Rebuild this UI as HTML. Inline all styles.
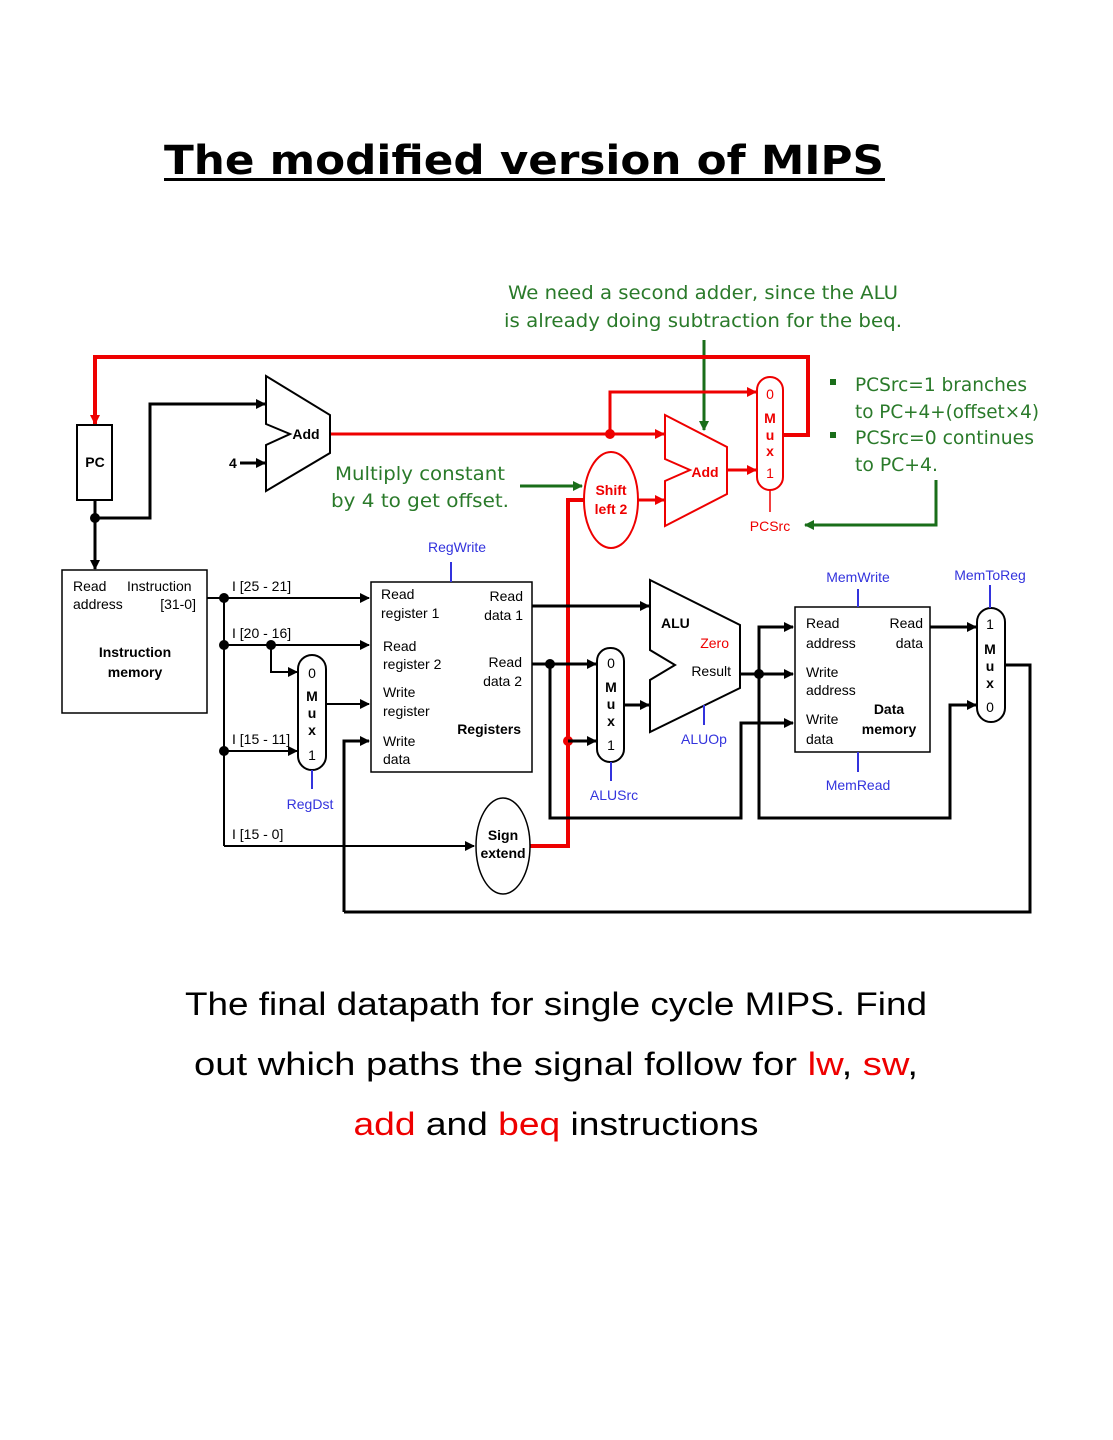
<!DOCTYPE html>
<html><head><meta charset="utf-8"><style>
html,body{margin:0;padding:0;background:#fff;}
svg{display:block;}
.a{font-family:"Liberation Sans",Arial,sans-serif;font-size:14px;fill:#000;}
.b{font-weight:bold;}
.blue{fill:#3333dd;}
.red{fill:#ee0000;}
.g{font-family:"DejaVu Sans","Liberation Sans",sans-serif;font-size:19px;fill:#2a7a2a;}
</style></head><body>
<svg width="1113" height="1440" viewBox="0 0 1113 1440" xmlns="http://www.w3.org/2000/svg">
<defs>
<marker id="ak" markerWidth="10" markerHeight="10" refX="9" refY="5" orient="auto" markerUnits="userSpaceOnUse"><path d="M0,0 L10,5 L0,10 z" fill="#000"/></marker>
<marker id="ar" markerWidth="10" markerHeight="10" refX="9" refY="5" orient="auto" markerUnits="userSpaceOnUse"><path d="M0,0 L10,5 L0,10 z" fill="#e00"/></marker>
<marker id="ag" markerWidth="10" markerHeight="10" refX="9" refY="5" orient="auto" markerUnits="userSpaceOnUse"><path d="M0,0 L10,5 L0,10 z" fill="#1a6e1a"/></marker>
</defs>

<!-- Title -->
<text x="524" y="174" text-anchor="middle" font-family="'DejaVu Sans','Liberation Sans',sans-serif" font-weight="bold" font-size="40" textLength="720" lengthAdjust="spacingAndGlyphs">The modified version of MIPS</text>
<rect x="164" y="178" width="721" height="3" fill="#000"/>

<!-- Green annotations -->
<text class="g" x="703" y="299" text-anchor="middle" textLength="390" lengthAdjust="spacingAndGlyphs">We need a second adder, since the ALU</text>
<text class="g" x="703" y="327" text-anchor="middle" textLength="398" lengthAdjust="spacingAndGlyphs">is already doing subtraction for the beq.</text>
<line x1="704" y1="340" x2="704" y2="430" stroke="#1a6e1a" stroke-width="3" marker-end="url(#ag)"/>
<text class="g" x="420" y="480" text-anchor="middle" textLength="170" lengthAdjust="spacingAndGlyphs">Multiply constant</text>
<text class="g" x="420" y="507" text-anchor="middle" textLength="178" lengthAdjust="spacingAndGlyphs">by 4 to get offset.</text>
<line x1="520" y1="486" x2="582" y2="486" stroke="#1a6e1a" stroke-width="3" marker-end="url(#ag)"/>
<rect x="830" y="379" width="6" height="6" fill="#1a6e1a"/>
<rect x="830" y="432" width="6" height="6" fill="#1a6e1a"/>
<text class="g" x="855" y="391" textLength="172" lengthAdjust="spacingAndGlyphs">PCSrc=1 branches</text>
<text class="g" x="855" y="418" textLength="184" lengthAdjust="spacingAndGlyphs">to PC+4+(offset×4)</text>
<text class="g" x="855" y="444" textLength="179" lengthAdjust="spacingAndGlyphs">PCSrc=0 continues</text>
<text class="g" x="855" y="471" textLength="83" lengthAdjust="spacingAndGlyphs">to PC+4.</text>
<polyline points="936,480 936,525 805,525" fill="none" stroke="#1a6e1a" stroke-width="3" marker-end="url(#ag)"/>

<!-- Red PC path -->
<polyline points="783,435 808,435 808,357 95,357 95,424" fill="none" stroke="#e00" stroke-width="4" marker-end="url(#ar)"/>
<line x1="330" y1="434" x2="664" y2="434" stroke="#e00" stroke-width="3" marker-end="url(#ar)"/>
<circle cx="610" cy="434" r="5" fill="#e00"/>
<polyline points="610,434 610,392 756,392" fill="none" stroke="#e00" stroke-width="3" marker-end="url(#ar)"/>
<line x1="727" y1="470" x2="756" y2="470" stroke="#e00" stroke-width="3" marker-end="url(#ar)"/>
<line x1="638" y1="500" x2="664" y2="500" stroke="#e00" stroke-width="3" marker-end="url(#ar)"/>
<polyline points="530,846 568,846 568,500 584,500" fill="none" stroke="#e00" stroke-width="4"/>
<circle cx="568" cy="741" r="5" fill="#e00"/>
<line x1="568" y1="741" x2="596" y2="741" stroke="#000" stroke-width="3" marker-end="url(#ak)"/>

<!-- Add2 -->
<path d="M665,415 L727,447 L727,494 L665,526 L665,481 L690,470 L665,459 Z" fill="#fff" stroke="#e00" stroke-width="2"/>
<text class="a b red" x="705" y="477" text-anchor="middle">Add</text>
<!-- PCSrc mux -->
<rect x="757" y="377" width="26" height="113" rx="13" fill="#fff" stroke="#e00" stroke-width="2"/>
<text class="a red" x="770" y="399" text-anchor="middle" font-size="13">0</text>
<text class="a b red" x="770" y="423" text-anchor="middle" font-size="13">M</text>
<text class="a b red" x="770" y="440" text-anchor="middle" font-size="13">u</text>
<text class="a b red" x="770" y="456" text-anchor="middle" font-size="13">x</text>
<text class="a red" x="770" y="478" text-anchor="middle" font-size="13">1</text>
<line x1="770" y1="490" x2="770" y2="512" stroke="#e00" stroke-width="1.5"/>
<text class="a red" x="770" y="531" text-anchor="middle">PCSrc</text>
<!-- Shift left 2 -->
<ellipse cx="611" cy="500" rx="27" ry="48" fill="#fff" stroke="#e00" stroke-width="2"/>
<text class="a b red" x="611" y="495" text-anchor="middle">Shift</text>
<text class="a b red" x="611" y="514" text-anchor="middle">left 2</text>

<!-- PC -->
<rect x="77" y="425" width="35" height="75" fill="#fff" stroke="#000" stroke-width="2"/>
<text class="a b" x="95" y="467" text-anchor="middle">PC</text>
<line x1="95" y1="500" x2="95" y2="569" stroke="#000" stroke-width="3" marker-end="url(#ak)"/>
<circle cx="95" cy="518" r="5"/>
<polyline points="95,518 150,518 150,404 265,404" fill="none" stroke="#000" stroke-width="3" marker-end="url(#ak)"/>
<text class="a b" x="229" y="468" font-size="13">4</text>
<line x1="240" y1="463" x2="265" y2="463" stroke="#000" stroke-width="3" marker-end="url(#ak)"/>
<!-- Add1 -->
<path d="M266,376 L330,415 L330,453 L266,491 L266,445 L290,434 L266,424 Z" fill="#fff" stroke="#000" stroke-width="2"/>
<text class="a b" x="306" y="439" text-anchor="middle">Add</text>

<!-- Instruction memory -->
<rect x="62" y="570" width="145" height="143" fill="#fff" stroke="#000" stroke-width="1.5"/>
<text class="a" x="73" y="591">Read</text>
<text class="a" x="127" y="591">Instruction</text>
<text class="a" x="73" y="609">address</text>
<text class="a" x="196" y="609" text-anchor="end">[31-0]</text>
<text class="a b" x="135" y="657" text-anchor="middle">Instruction</text>
<text class="a b" x="135" y="677" text-anchor="middle">memory</text>

<!-- instruction fields -->
<line x1="207" y1="598" x2="369" y2="598" stroke="#000" stroke-width="2" marker-end="url(#ak)"/>
<line x1="224" y1="598" x2="224" y2="846" stroke="#000" stroke-width="2"/>
<circle cx="224" cy="598" r="5"/><circle cx="224" cy="645" r="5"/><circle cx="224" cy="751" r="5"/><circle cx="271" cy="645" r="5"/>
<text class="a" x="232" y="591">I [25 - 21]</text>
<line x1="224" y1="645" x2="369" y2="645" stroke="#000" stroke-width="2" marker-end="url(#ak)"/>
<text class="a" x="232" y="638">I [20 - 16]</text>
<polyline points="271,645 271,672 297,672" fill="none" stroke="#000" stroke-width="2" marker-end="url(#ak)"/>
<line x1="224" y1="751" x2="297" y2="751" stroke="#000" stroke-width="2" marker-end="url(#ak)"/>
<text class="a" x="232" y="744">I [15 - 11]</text>
<line x1="224" y1="846" x2="474" y2="846" stroke="#000" stroke-width="2" marker-end="url(#ak)"/>
<text class="a" x="232" y="839">I [15 - 0]</text>

<!-- RegDst mux -->
<rect x="298" y="655" width="28" height="115" rx="14" fill="#fff" stroke="#000" stroke-width="2"/>
<text class="a" x="312" y="678" text-anchor="middle" font-size="13">0</text>
<text class="a b" x="312" y="701" text-anchor="middle" font-size="14">M</text>
<text class="a b" x="312" y="718" text-anchor="middle" font-size="14">u</text>
<text class="a b" x="312" y="735" text-anchor="middle" font-size="14">x</text>
<text class="a" x="312" y="760" text-anchor="middle" font-size="13">1</text>
<line x1="312" y1="770" x2="312" y2="789" stroke="#3333dd" stroke-width="2"/>
<text class="a blue" x="310" y="809" text-anchor="middle">RegDst</text>
<line x1="326" y1="704" x2="369" y2="704" stroke="#000" stroke-width="2" marker-end="url(#ak)"/>

<!-- Registers -->
<rect x="371" y="582" width="161" height="190" fill="#fff" stroke="#000" stroke-width="1.5"/>
<line x1="451" y1="562" x2="451" y2="582" stroke="#3333dd" stroke-width="2"/>
<text class="a blue" x="457" y="552" text-anchor="middle">RegWrite</text>
<text class="a" x="381" y="599">Read</text>
<text class="a" x="381" y="618">register 1</text>
<text class="a" x="523" y="601" text-anchor="end">Read</text>
<text class="a" x="523" y="620" text-anchor="end">data 1</text>
<text class="a" x="383" y="651">Read</text>
<text class="a" x="383" y="669">register 2</text>
<text class="a" x="522" y="667" text-anchor="end">Read</text>
<text class="a" x="522" y="686" text-anchor="end">data 2</text>
<text class="a" x="383" y="697">Write</text>
<text class="a" x="383" y="716">register</text>
<text class="a b" x="521" y="734" text-anchor="end">Registers</text>
<text class="a" x="383" y="746">Write</text>
<text class="a" x="383" y="764">data</text>
<polyline points="344,912 344,741 369,741" fill="none" stroke="#000" stroke-width="3" marker-end="url(#ak)"/>

<!-- Sign extend -->
<ellipse cx="503" cy="846" rx="27" ry="48" fill="#fff" stroke="#000" stroke-width="1.5"/>
<text class="a b" x="503" y="840" text-anchor="middle">Sign</text>
<text class="a b" x="503" y="858" text-anchor="middle">extend</text>

<!-- RD1 to ALU -->
<line x1="532" y1="606" x2="649" y2="606" stroke="#000" stroke-width="3" marker-end="url(#ak)"/>
<line x1="532" y1="664" x2="596" y2="664" stroke="#000" stroke-width="3" marker-end="url(#ak)"/>
<circle cx="550" cy="664" r="5"/>
<polyline points="550,664 550,818 741,818 741,723 793,723" fill="none" stroke="#000" stroke-width="3" marker-end="url(#ak)"/>
<!-- ALUSrc mux -->
<rect x="597" y="648" width="27" height="114" rx="13" fill="#fff" stroke="#000" stroke-width="2"/>
<text class="a" x="611" y="668" text-anchor="middle" font-size="13">0</text>
<text class="a b" x="611" y="692" text-anchor="middle">M</text>
<text class="a b" x="611" y="709" text-anchor="middle">u</text>
<text class="a b" x="611" y="726" text-anchor="middle">x</text>
<text class="a" x="611" y="750" text-anchor="middle" font-size="13">1</text>
<line x1="611" y1="762" x2="611" y2="781" stroke="#3333dd" stroke-width="2"/>
<text class="a blue" x="614" y="800" text-anchor="middle">ALUSrc</text>
<line x1="624" y1="705" x2="649" y2="705" stroke="#000" stroke-width="3" marker-end="url(#ak)"/>

<!-- ALU -->
<path d="M650,580 L740,625 L740,688 L650,732 L650,680 L675,665 L650,650 Z" fill="#fff" stroke="#000" stroke-width="2"/>
<text class="a b" x="661" y="628">ALU</text>
<text class="a red" x="729" y="648" text-anchor="end">Zero</text>
<text class="a" x="731" y="676" text-anchor="end">Result</text>
<line x1="704" y1="705" x2="704" y2="725" stroke="#3333dd" stroke-width="2"/>
<text class="a blue" x="704" y="744" text-anchor="middle">ALUOp</text>

<line x1="740" y1="674" x2="793" y2="674" stroke="#000" stroke-width="3" marker-end="url(#ak)"/>
<circle cx="759" cy="674" r="5"/>
<polyline points="793,627 759,627 759,818 950,818 950,705 976,705" fill="none" stroke="#000" stroke-width="3" marker-end="url(#ak)"/>
<line x1="759" y1="627" x2="793" y2="627" stroke="#000" stroke-width="3" marker-end="url(#ak)"/>

<!-- Data memory -->
<rect x="795" y="607" width="135" height="145" fill="#fff" stroke="#000" stroke-width="1.5"/>
<line x1="858" y1="589" x2="858" y2="607" stroke="#3333dd" stroke-width="2"/>
<text class="a blue" x="858" y="582" text-anchor="middle">MemWrite</text>
<line x1="858" y1="752" x2="858" y2="772" stroke="#3333dd" stroke-width="2"/>
<text class="a blue" x="858" y="790" text-anchor="middle">MemRead</text>
<text class="a" x="806" y="628">Read</text>
<text class="a" x="923" y="628" text-anchor="end">Read</text>
<text class="a" x="806" y="648">address</text>
<text class="a" x="923" y="648" text-anchor="end">data</text>
<text class="a" x="806" y="677">Write</text>
<text class="a" x="806" y="695">address</text>
<text class="a b" x="889" y="714" text-anchor="middle">Data</text>
<text class="a" x="806" y="724">Write</text>
<text class="a b" x="889" y="734" text-anchor="middle">memory</text>
<text class="a" x="806" y="744">data</text>
<line x1="930" y1="627" x2="976" y2="627" stroke="#000" stroke-width="3" marker-end="url(#ak)"/>

<!-- MemToReg mux -->
<rect x="977" y="608" width="28" height="114" rx="14" fill="#fff" stroke="#000" stroke-width="2"/>
<text class="a" x="990" y="629" text-anchor="middle" font-size="13">1</text>
<text class="a b" x="990" y="654" text-anchor="middle">M</text>
<text class="a b" x="990" y="671" text-anchor="middle">u</text>
<text class="a b" x="990" y="688" text-anchor="middle">x</text>
<text class="a" x="990" y="712" text-anchor="middle" font-size="13">0</text>
<line x1="990" y1="585" x2="990" y2="608" stroke="#3333dd" stroke-width="2"/>
<text class="a blue" x="990" y="580" text-anchor="middle">MemToReg</text>
<polyline points="1005,665 1030,665 1030,912 344,912" fill="none" stroke="#000" stroke-width="3"/>

<!-- Caption -->
<g font-family="'Liberation Sans',sans-serif" font-size="32" text-anchor="middle">
<text x="556" y="1015" textLength="742" lengthAdjust="spacingAndGlyphs">The final datapath for single cycle MIPS. Find</text>
<text x="556" y="1075" textLength="724" lengthAdjust="spacingAndGlyphs">out which paths the signal follow for <tspan fill="#e00">lw</tspan>, <tspan fill="#e00">sw</tspan>,</text>
<text x="556" y="1135" textLength="405" lengthAdjust="spacingAndGlyphs"><tspan fill="#e00">add</tspan> and <tspan fill="#e00">beq</tspan> instructions</text>
</g>
</svg>
</body></html>
